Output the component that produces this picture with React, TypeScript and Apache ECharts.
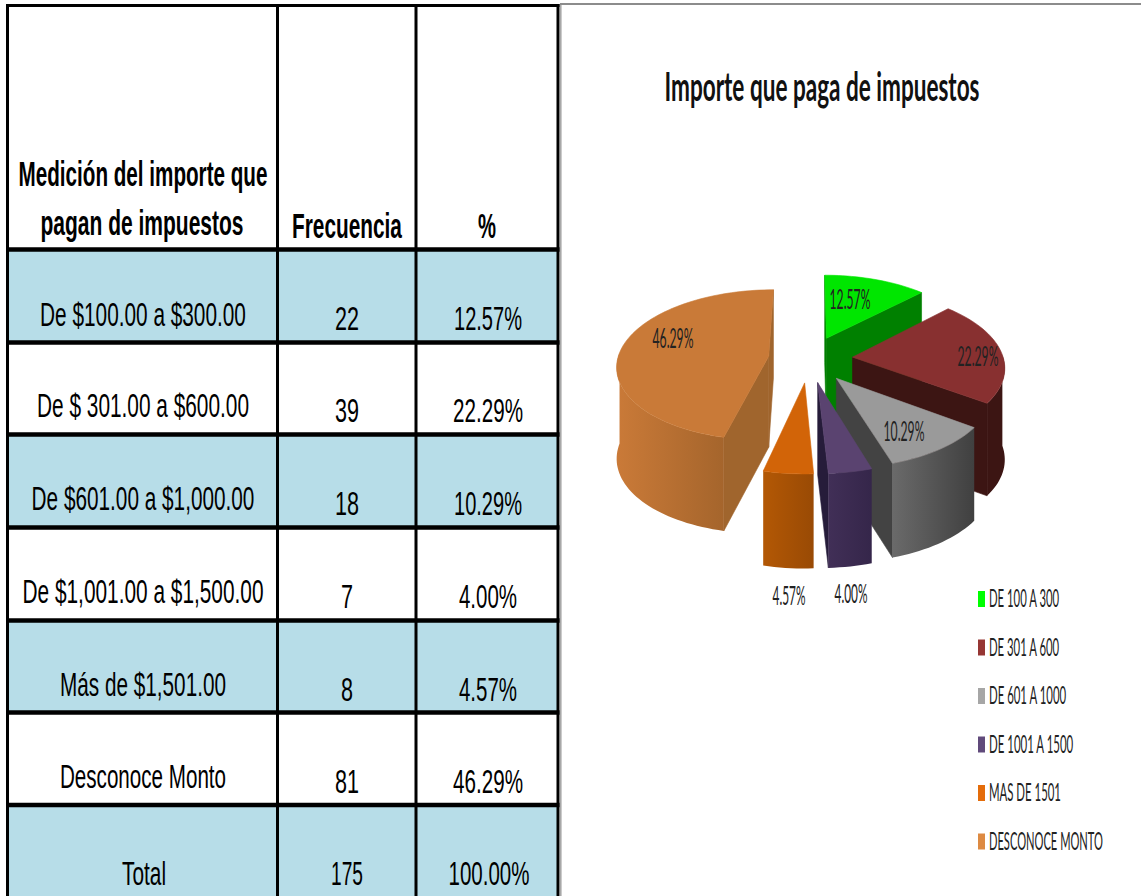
import React, { useEffect, useRef } from "react";
import * as echarts from "echarts";

const TITLE = "Importe que paga de impuestos";
const HEADER_1 = ["Medición del importe que", "pagan de impuestos"];
const HEADER_2 = "Frecuencia";
const HEADER_3 = "%";
const ROW_LABELS = [
  "De $100.00 a $300.00",
  "De $ 301.00 a $600.00",
  "De $601.00 a $1,000.00",
  "De $1,001.00 a $1,500.00",
  "Más de $1,501.00",
  "Desconoce Monto",
];
const FREQUENCIES = [22, 39, 18, 7, 8, 81];
const TOTAL_LABEL = "Total";
const TOTAL_PCT = "100.00%";
const LEGEND_NAMES = ["DE 100 A 300", "DE 301 A 600", "DE 601 A 1000", "DE 1001 A 1500", "MAS DE 1501", "DESCONOCE MONTO"];

const TOTAL = FREQUENCIES.reduce((a, b) => a + b, 0);
const pct = (v: number) => ((v / TOTAL) * 100).toFixed(2) + "%";

// Table layout
const LINE_Y = [249.5, 342.5, 434.5, 527.5, 620.5, 712.5, 805];
const LINE_X = [7.5, 277.5, 416, 558];
const COL1_W = [206, 212, 223, 241, 166, 166];
const COL2_W = [24, 24, 24, 12, 12, 24];
const COL3_W = [68, 70, 68, 58, 58, 70];
const COL1_BASE = [326, 417, 510, 603, 696, 788];
const COL2_BASE = [330, 422, 515, 608, 701, 793];

// Slice styling
const TOP = ["#00e600", "#883030", "#9a9a9a", "#5a4370", "#d26408", "#c97a38"];
const SIDE = ["#008000", "#3c1513", "#434343", "#261c3a", "#a85506", "#a0652d"];
const ARC_A = ["#008000", "#3c1513", "#6a6a6a", "#412f57", "#b35805", "#ca7a38"];
const ARC_B = ["#008000", "#3c1513", "#404040", "#35264a", "#994a05", "#a5652c"];
const LEGEND_COLORS = ["#00ff00", "#963634", "#a6a6a6", "#604a7b", "#e46c0a", "#dd8a42"];
const LABEL_POS = [[850, 299], [978, 356], [904, 431], [851, 593], [789, 595], [673, 338]];
const NUDGE_X = [0, -3, -1, 0, 0, 6];

// Projection
const CX = 809, CY = 359, RX = 151, RY = 74.7, P = 0.114, EXPLODE = 0.31, WALL = 91;

const measure = (() => {
  const ctx = document.createElement("canvas").getContext("2d")!;
  return (t: string, font: string) => {
    ctx.font = font;
    return ctx.measureText(t).width;
  };
})();

function text(t: string, x: number, baseline: number, size: number, w: number, opts: any = {}) {
  const family = opts.family || "Liberation Sans";
  const weight = opts.weight || "normal";
  const align = opts.align || "center";
  const natural = measure(t, `${weight} ${size}px "${family}"`);
  return {
    type: "text",
    z: 10,
    x,
    y: baseline - size * (opts.mid ?? 0.35),
    scaleX: w / natural,
    silent: true,
    style: {
      text: t,
      fontSize: size,
      fontFamily: family,
      fontWeight: weight,
      fill: opts.fill || "#000",
      textAlign: align,
      textVerticalAlign: "middle",
    },
  };
}

const rect = (x: number, y: number, w: number, h: number, fill: string) => ({
  type: "rect",
  silent: true,
  shape: { x, y, width: w, height: h },
  style: { fill },
});

function project(X: number, Z: number, dx: number) {
  const w = 1 - P * Z;
  const top: [number, number] = [CX + dx + (RX * X) / w, CY + (RY * Z) / w];
  const h = WALL * (1 + 0.03 * Z);
  const bottom: [number, number] = [top[0], top[1] + h];
  return { top, bottom };
}

function area(pts: number[][]) {
  let s = 0;
  pts.forEach((p, i) => {
    const q = pts[(i + 1) % pts.length];
    s += p[0] * q[1] - q[0] * p[1];
  });
  return s;
}

function renderSlice(params: any, api: any) {
  const i = params.dataIndex;
  let before = 0;
  for (let k = 0; k < i; k++) before += FREQUENCIES[k];
  const value = api.value(0);
  const a0 = (before / TOTAL) * Math.PI * 2;
  const a1 = ((before + value) / TOTAL) * Math.PI * 2;
  const mid = (a0 + a1) / 2;
  const ex = EXPLODE * Math.sin(mid);
  const ez = -EXPLODE * Math.cos(mid);
  const at = (t: number) => project(ex + Math.sin(t), ez - Math.cos(t), NUDGE_X[i]);
  const apex = project(ex, ez, NUDGE_X[i]);
  const poly = (points: number[][], fill: any) => ({
    type: "polygon",
    shape: { points },
    style: { fill, stroke: fill, lineWidth: 0.6 },
  });
  const children: any[] = [];
  const c0 = at(a0);
  const c1 = at(a1);
  const startWall = [apex.top, c0.top, c0.bottom, apex.bottom];
  const endWall = [apex.top, c1.top, c1.bottom, apex.bottom];
  if (area(startWall) < 0) children.push(poly(startWall, SIDE[i]));
  if (area(endWall) > 0) children.push(poly(endWall, SIDE[i]));

  const N = Math.max(6, Math.ceil((a1 - a0) / 0.035));
  const tops: number[][] = [apex.top];
  const arcTop: number[][] = [];
  const arcBottom: number[][] = [];
  for (let k = 0; k <= N; k++) {
    const t = a0 + ((a1 - a0) * k) / N;
    const p = at(t);
    tops.push(p.top);
    if (Math.cos(t) < 0.05) {
      arcTop.push(p.top);
      arcBottom.unshift(p.bottom);
    }
  }
  if (arcTop.length > 1) {
    const xs = arcTop.map((p) => p[0]);
    const xMin = Math.min(...xs);
    const xMax = Math.max(...xs);
    const fill = {
      type: "linear",
      global: true,
      x: xMin,
      y: 0,
      x2: xMax,
      y2: 0,
      colorStops: [
        { offset: 0, color: ARC_A[i] },
        { offset: 1, color: ARC_B[i] },
      ],
    };
    children.push({
      type: "polygon",
      shape: { points: [...arcTop, ...arcBottom] },
      style: { fill, stroke: "none" },
    });
  }
  children.push(poly(tops, TOP[i]));
  return { type: "group", children };
}

function buildGraphic() {
  const els: any[] = [];
  const W = LINE_X[3] - LINE_X[0];
  // Row fills
  [0, 2, 4].forEach((r) => els.push(rect(LINE_X[0], LINE_Y[r], W, LINE_Y[r + 1] - LINE_Y[r], "#b7dde8")));
  els.push(rect(LINE_X[0], LINE_Y[6], W, 896 - LINE_Y[6], "#b7dde8"));
  // Gray frame of the picture next to the table
  els.push(rect(560, 3, 1.6, 893, "#a8a8a8"));
  els.push(rect(560, 3, 581, 2, "#8c8c8c"));
  // Grid
  els.push(rect(LINE_X[0] - 1.5, 4, W + 3, 3, "#000"));
  LINE_Y.forEach((y) => els.push(rect(LINE_X[0] - 1.5, y - 2.3, W + 3, 4.6, "#000")));
  LINE_X.forEach((x) => els.push(rect(x - 1.5, 4, 3, 892, "#000")));
  // Header
  els.push(text(HEADER_1[0], 143, 186, 35, 249, { weight: "bold" }));
  els.push(text(HEADER_1[1], 142, 235, 35, 203, { weight: "bold" }));
  els.push(text(HEADER_2, 347, 238, 35, 110, { weight: "bold" }));
  els.push(text(HEADER_3, 487, 238, 35, 18, { weight: "bold" }));
  // Rows
  ROW_LABELS.forEach((label, i) => {
    els.push(text(label, 143, COL1_BASE[i], 34, COL1_W[i]));
    els.push(text(String(FREQUENCIES[i]), 347, COL2_BASE[i], 34, COL2_W[i]));
    els.push(text(pct(FREQUENCIES[i]), 488, COL2_BASE[i], 34, COL3_W[i]));
  });
  els.push(text(TOTAL_LABEL, 144, 885, 34, 44));
  els.push(text(String(TOTAL), 347, 885, 34, 32));
  els.push(text(TOTAL_PCT, 489, 885, 34, 81));
  // Title
  els.push(text(TITLE, 822, 100, 41, 315, { family: "Lato", weight: "bold", mid: 0.38, fill: "#111" }));
  // Pie labels
  FREQUENCIES.forEach((v, i) => {
    els.push(text(pct(v), LABEL_POS[i][0], LABEL_POS[i][1] + 9, 27, i === 3 || i === 4 ? 33 : 41, { family: "Lato", mid: 0.38, fill: "#222" }));
  });
  // Legend
  const LEGEND_W = [71, 71, 78, 85, 72, 114];
  LEGEND_NAMES.forEach((name, i) => {
    const y = 591 + i * 48.5;
    els.push(rect(978, y, 7, 16, LEGEND_COLORS[i]));
    els.push(text(name, 989, y + 16, 25, LEGEND_W[i], { family: "Lato", align: "left", mid: 0.38, fill: "#222" }));
  });
  return els;
}

export default function App() {
  const ref = useRef<HTMLDivElement>(null);
  useEffect(() => {
    const chart = echarts.init(ref.current!, undefined, { renderer: "svg" });
    chart.setOption({
      animation: false,
      backgroundColor: "#fff",
      graphic: { elements: buildGraphic() },
      series: [
        {
          type: "custom",
          coordinateSystem: "none",
          silent: true,
          renderItem: renderSlice,
          data: FREQUENCIES.map((v) => [v]),
        },
      ],
    });
    return () => chart.dispose();
  }, []);
  return <div ref={ref} style={{ position: "fixed", left: 0, top: 0, width: 1141, height: 896 }} />;
}
